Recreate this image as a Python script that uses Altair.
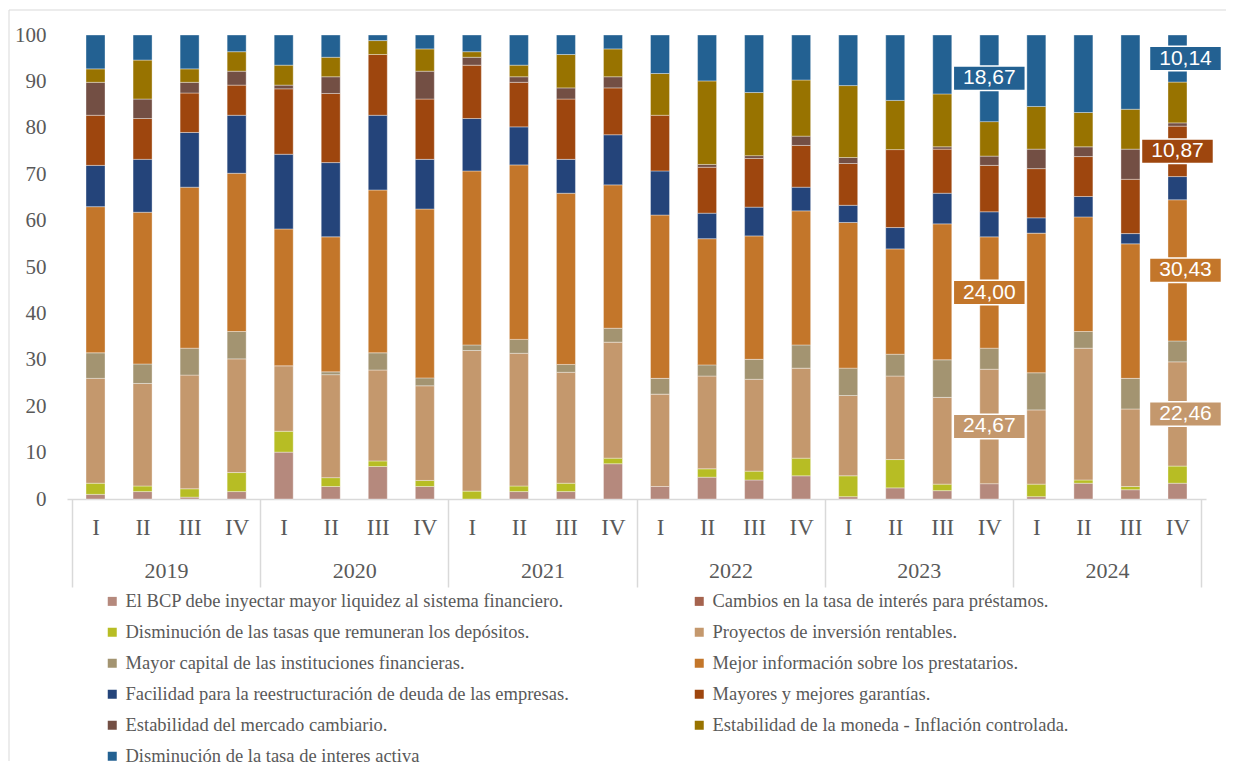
import altair as alt
import pandas as pd

SERIF = "Liberation Serif"
SANS = "Liberation Sans"
GRAY = "#595959"
LINE = "#d9d9d9"

years = ["2019", "2020", "2021", "2022", "2023", "2024"]
quarters = ["I", "II", "III", "IV"]

categories = [
    "El BCP debe inyectar mayor liquidez al sistema financiero.",
    "Cambios en la tasa de interés para préstamos.",
    "Disminución de las tasas que remuneran los depósitos.",
    "Proyectos de inversión rentables.",
    "Mayor capital de las instituciones financieras.",
    "Mejor información sobre los prestatarios.",
    "Facilidad para la reestructuración de deuda de las empresas.",
    "Mayores y mejores garantías.",
    "Estabilidad del mercado cambiario.",
    "Estabilidad de la moneda - Inflación controlada.",
    "Disminución de la tasa de interes activa",
]
colors = ["#b5897d", "#a5634e", "#b7bd24", "#c4986d", "#a39471", "#c3762a",
          "#24447a", "#9e460e", "#734f44", "#987300", "#236192"]

# values per quarter, 2019-I ... 2024-IV
bcp = [1.0, 1.6, 0.4, 1.6, 10.1, 2.7, 7.0, 2.7, 0.0, 1.6, 1.6, 7.6,
       2.7, 4.7, 4.1, 5.0, 0.5, 2.4, 1.8, 3.3, 0.5, 3.4, 2.0, 3.4]
cambios = [0.0] * 24
depositos = [2.4, 1.2, 1.8, 4.1, 4.5, 1.9, 1.2, 1.3, 1.7, 1.2, 1.8, 1.2,
             0.0, 1.8, 1.9, 3.8, 4.5, 6.1, 1.4, 0.0, 2.7, 0.7, 0.7, 3.7]
proyectos = [22.6, 22.1, 24.5, 24.5, 14.1, 22.2, 19.6, 20.4, 30.3, 28.6, 23.9, 25.0,
             19.9, 20.0, 19.8, 19.4, 17.3, 18.0, 18.7, 24.67, 16.0, 28.4, 16.7, 22.46]
capital = [5.5, 4.2, 5.8, 5.9, 0.0, 0.6, 3.7, 1.7, 1.2, 3.0, 1.7, 3.0,
           3.4, 2.4, 4.3, 5.0, 5.9, 4.7, 8.1, 4.53, 8.0, 3.6, 6.6, 4.5]
informacion = [31.5, 32.7, 34.7, 34.1, 29.5, 29.1, 35.1, 36.4, 37.5, 37.6, 36.9, 30.9,
               35.2, 27.2, 26.6, 28.9, 31.4, 22.7, 29.3, 24.00, 30.1, 24.7, 29.0, 30.43]
reestructuracion = [8.9, 11.4, 11.8, 12.5, 16.1, 16.0, 16.1, 10.7, 11.3, 8.2, 7.3, 10.8,
                    9.5, 5.5, 6.2, 5.1, 3.7, 4.6, 6.6, 5.4, 3.3, 4.4, 2.2, 5.0]
garantias = [10.8, 8.8, 8.5, 6.5, 14.1, 14.9, 13.1, 13.0, 11.5, 9.6, 13.0, 10.1,
             12.0, 9.9, 10.5, 9.0, 9.0, 16.8, 9.5, 10.0, 10.6, 8.6, 11.7, 10.87]
cambiario = [7.1, 4.2, 2.3, 3.0, 0.8, 3.6, 0.0, 6.0, 1.7, 1.2, 2.4, 2.4,
             0.0, 0.6, 0.6, 2.0, 1.3, 0.0, 0.5, 2.0, 4.2, 2.1, 6.5, 0.7]
moneda = [2.9, 8.4, 2.9, 4.2, 4.3, 4.2, 3.0, 4.8, 1.2, 2.5, 7.2, 6.0,
          9.0, 18.0, 13.6, 12.1, 15.5, 10.6, 11.4, 7.43, 9.2, 7.4, 8.6, 8.8]
tasa_activa = [7.3, 5.4, 7.3, 3.6, 6.5, 4.8, 1.2, 3.0, 3.6, 6.5, 4.2, 3.0,
               8.3, 9.9, 12.4, 9.7, 10.9, 14.1, 12.7, 18.67, 15.4, 16.7, 16.0, 10.14]

series = [bcp, cambios, depositos, proyectos, capital, informacion,
          reestructuracion, garantias, cambiario, moneda, tasa_activa]

# labelled segments: (year, quarter, category index)
labelled = [("2023", "IV", 10), ("2023", "IV", 5), ("2023", "IV", 3),
            ("2024", "IV", 10), ("2024", "IV", 7), ("2024", "IV", 5), ("2024", "IV", 3)]
# labels drawn slightly to the right of their bar
nudged = [("2024", "IV", 10), ("2024", "IV", 5), ("2024", "IV", 3)]

rows = []
for yi, yr in enumerate(years):
    for qi, q in enumerate(quarters):
        k = yi * 4 + qi
        cum = 0.0
        for ci, cat in enumerate(categories):
            v = series[ci][k]
            rows.append(dict(pos=k + 0.5, year=yr, quarter=q, cat=cat, idx=ci,
                             v=v, mid=cum + v / 2, hex=colors[ci]))
            cum += v
df = pd.DataFrame(rows)

lab = pd.concat([df[(df.year == yr) & (df.quarter == q) & (df.idx == ci)]
                 for yr, q, ci in labelled])
lab["txt"] = lab["v"].map(lambda x: f"{x:.2f}".replace(".", ","))
lab["nudge"] = [(r.year, r.quarter, r.idx) in nudged for r in lab.itertuples()]

# legend lays entries out column by column: reorder so it reads row by row
legend_order = list(range(0, 11, 2)) + list(range(1, 11, 2))
legend_domain = [categories[i] for i in legend_order]
legend_range = [colors[i] for i in legend_order]

W, H = 1139, 464
x_scale = alt.Scale(domain=[0, 24], nice=False, zero=False)
y_scale = alt.Scale(domain=[0, 100], nice=False)

label_expr = (
    "(datum.value % 1 == 0.5) ? ['I','II','III','IV'][floor(datum.value) % 4] : "
    "((datum.value % 4 == 2) ? ['', ['" + "','".join(years) + "'][floor(datum.value / 4)]] : '')"
)

x_axis = alt.Axis(
    title=None, values=[i / 2 for i in range(49)], grid=False,
    domainColor=LINE, domainWidth=1.5,
    tickSize=88, tickWidth=1.5,
    tickColor={"condition": {"test": "datum.value % 4 == 0", "value": LINE}, "value": "transparent"},
    labelPadding=-71, labelBaseline="top", labelLineHeight=44.5, labelAngle=0,
    labelFont=SERIF, labelColor=GRAY,
    labelFontSize={"condition": {"test": "datum.value % 1 == 0.5", "value": 23}, "value": 22},
    labelOverlap=False, labelFlush=False, labelBound=False, labelExpr=label_expr,
)
y_axis = alt.Axis(
    title=None, values=list(range(0, 101, 10)), grid=False, domain=False, ticks=False,
    labelFont=SERIF, labelFontSize=21, labelColor=GRAY, labelPadding=21,
)

legend = alt.Legend(
    title=None, orient="none", legendX=36, legendY=557, columns=2,
    symbolType="square", symbolSize=81, symbolStrokeWidth=0,
    labelFont=SERIF, labelFontSize=18.5, labelColor=GRAY, labelLimit=800,
    labelOffset=4, rowPadding=12.0, columnPadding=121, padding=0,
)

bars = alt.Chart(df).transform_filter("datum.v > 0").mark_bar(
    size=19, orient="vertical", stroke="white", strokeWidth=0.6, strokeOpacity=0.6
).encode(
    x=alt.X("pos:Q", scale=x_scale, axis=x_axis),
    y=alt.Y("v:Q", stack="zero", scale=y_scale, axis=y_axis),
    color=alt.Color("cat:N", scale=alt.Scale(domain=legend_domain, range=legend_range),
                    legend=legend),
    order=alt.Order("idx:Q", sort="ascending"),
)

box_shape = "M-1,-0.34L1,-0.34L1,0.34L-1,0.34Z"


def label_layers(data, shift):
    boxes = alt.Chart(data).mark_point(
        shape=box_shape, filled=True, size=72 * 72, opacity=1,
        stroke="white", strokeWidth=1.5, xOffset=shift
    ).encode(
        x=alt.X("pos:Q", scale=x_scale, axis=x_axis),
        y=alt.Y("mid:Q", scale=y_scale, axis=y_axis),
        fill=alt.Fill("hex:N", scale=None),
    )
    texts = alt.Chart(data).mark_text(
        font=SANS, fontSize=21, color="white", align="center", baseline="middle",
        xOffset=shift
    ).encode(
        x=alt.X("pos:Q", scale=x_scale, axis=x_axis),
        y=alt.Y("mid:Q", scale=y_scale, axis=y_axis),
        text="txt:N",
    )
    return [boxes, texts]


plain = label_layers(lab[~lab["nudge"]], 0)
shifted = label_layers(lab[lab["nudge"]], 8)

# light frame around the chart (top and left edges visible)
one = pd.DataFrame({"a": [0]})
frame_top = alt.Chart(one).mark_rule(color=LINE, strokeWidth=1).encode(
    x=alt.value(-58), x2=alt.value(W + 20), y=alt.value(-25)
)
frame_left = alt.Chart(one).mark_rule(color=LINE, strokeWidth=1).encode(
    x=alt.value(-58), y=alt.value(-25), y2=alt.value(H + 262)
)

chart = alt.layer(frame_top, frame_left, bars, *plain, *shifted).properties(
    width=W, height=H,
    padding={"left": 0, "top": 1, "right": 0, "bottom": 0},
).configure_view(stroke=None)

chart.save("out.html", embed_options={"renderer": "svg", "actions": False})
